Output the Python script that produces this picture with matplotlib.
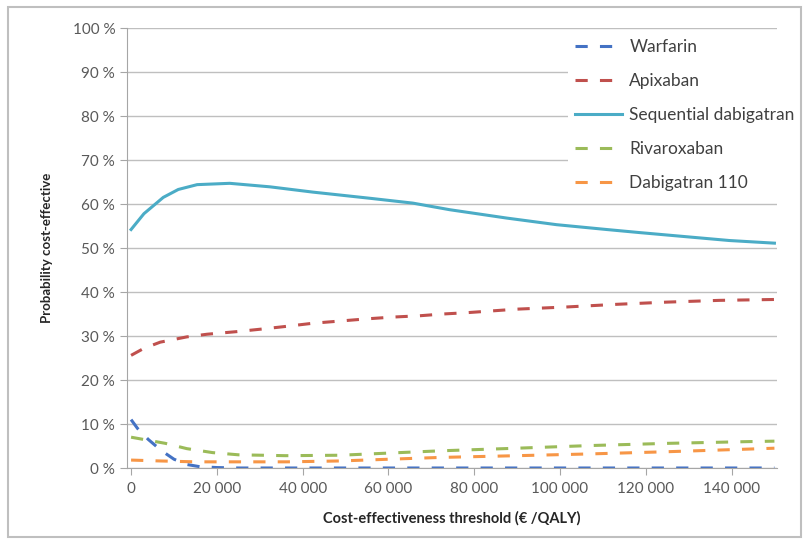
import matplotlib
matplotlib.use("Agg")
import matplotlib.pyplot as plt
from matplotlib.patches import Rectangle
from matplotlib.ticker import FuncFormatter

plt.rcParams['font.family'] = ['Lato', 'DejaVu Sans']

# willingness-to-pay thresholds (EUR/QALY) and probability cost-effective (%)
seq_x = [0, 3000, 7500, 11000, 15400, 23000, 32400, 42400, 55700, 65700, 74300,
         87600, 99200, 110900, 118600, 130200, 139500, 150000]
seq_y = [54.2, 57.8, 61.5, 63.3, 64.4, 64.7, 63.9, 62.7, 61.3, 60.2, 58.7,
         56.8, 55.3, 54.2, 53.5, 52.5, 51.7, 51.1]

api_x = [0, 3000, 6800, 13000, 17700, 24700, 30700, 36300, 42400, 48700, 55000,
         61000, 67300, 72700, 78300, 89900, 101600, 113200, 124900, 137200, 150000]
api_y = [25.6, 27.2, 28.6, 29.8, 30.4, 31.0, 31.6, 32.2, 32.9, 33.4, 33.9,
         34.3, 34.6, 35.0, 35.3, 36.1, 36.6, 37.2, 37.7, 38.1, 38.3]

war_x = [0, 1500, 4000, 7000, 10000, 13000, 16000, 20000, 25000, 150000]
war_y = [11.0, 9.0, 6.5, 4.0, 2.0, 0.8, 0.3, 0.1, 0.0, 0.0]

riv_x = [0, 4000, 8000, 13000, 19000, 25000, 36000, 48700, 60300, 72000,
         90000, 107000, 125000, 144000, 150000]
riv_y = [7.0, 6.3, 5.6, 4.4, 3.5, 3.0, 2.8, 2.9, 3.4, 3.9,
         4.5, 5.1, 5.6, 6.0, 6.1]

dab_x = [0, 6800, 15000, 24700, 36300, 48700, 60300, 72000, 90000, 107000,
         125000, 144000, 150000]
dab_y = [1.8, 1.6, 1.4, 1.4, 1.4, 1.6, 2.0, 2.4, 2.8, 3.2,
         3.7, 4.3, 4.5]

dash = (0, (4, 4))
series = [
    ("Warfarin", war_x, war_y, "#4472C4", dash),
    ("Apixaban", api_x, api_y, "#C0504D", dash),
    ("Sequential dabigatran", seq_x, seq_y, "#4BACC6", "-"),
    ("Rivaroxaban", riv_x, riv_y, "#9BBB59", dash),
    ("Dabigatran 110", dab_x, dab_y, "#F79646", dash),
]

fig = plt.figure(figsize=(8.1, 5.43), dpi=100)
ax = fig.add_axes([127 / 810, 1 - 468 / 543, 650 / 810, 440 / 543])

for name, xs, ys, col, ls in series:
    ax.plot(xs, [v / 100 for v in ys], color=col, linestyle=ls, lw=2.2, label=name)

ax.set_xlim(-950, 150600)
ax.set_ylim(0, 1)
ax.set_xticks(range(0, 140001, 20000))
ax.set_yticks([i / 10 for i in range(11)])
ax.xaxis.set_major_formatter(FuncFormatter(lambda v, p: f"{int(v):,}".replace(",", " ")))
ax.yaxis.set_major_formatter(FuncFormatter(lambda v, p: f"{round(v * 100)} %"))
ax.tick_params(axis='both', colors="#A6A6A6", labelcolor="#595959", labelsize=11, length=5)
ax.tick_params(axis='x', direction='out', pad=5)
ax.grid(axis='y', color="#BFBFBF", lw=1)
ax.set_axisbelow(True)
for s in ["top", "right"]:
    ax.spines[s].set_visible(False)
ax.spines["left"].set_color("#A6A6A6")
ax.spines["bottom"].set_color("#A6A6A6")

ax.set_xlabel("Cost-effectiveness threshold (€ /QALY)", fontsize=10.5, fontweight="bold",
              color="#262626", labelpad=11)
ax.set_ylabel("Probability cost-effective", fontsize=9.5, fontweight="bold",
              color="#262626", labelpad=14)

leg = ax.legend(loc="upper left", bbox_to_anchor=(0.678, 0.99), fontsize=12.5,
                handlelength=2.7, labelspacing=1.03, frameon=True, fancybox=False,
                borderpad=0.4, handletextpad=0.45, borderaxespad=0)
leg.get_frame().set_facecolor("white")
leg.get_frame().set_edgecolor("none")
leg.get_frame().set_alpha(1)
for t in leg.get_texts():
    t.set_color("#404040")

fig.patches.append(Rectangle((8 / 810, 6 / 543), 793 / 810, 530 / 543, transform=fig.transFigure,
                             fill=False, edgecolor="#BFBFBF", lw=1.5))

fig.savefig("out.png", dpi=100)
